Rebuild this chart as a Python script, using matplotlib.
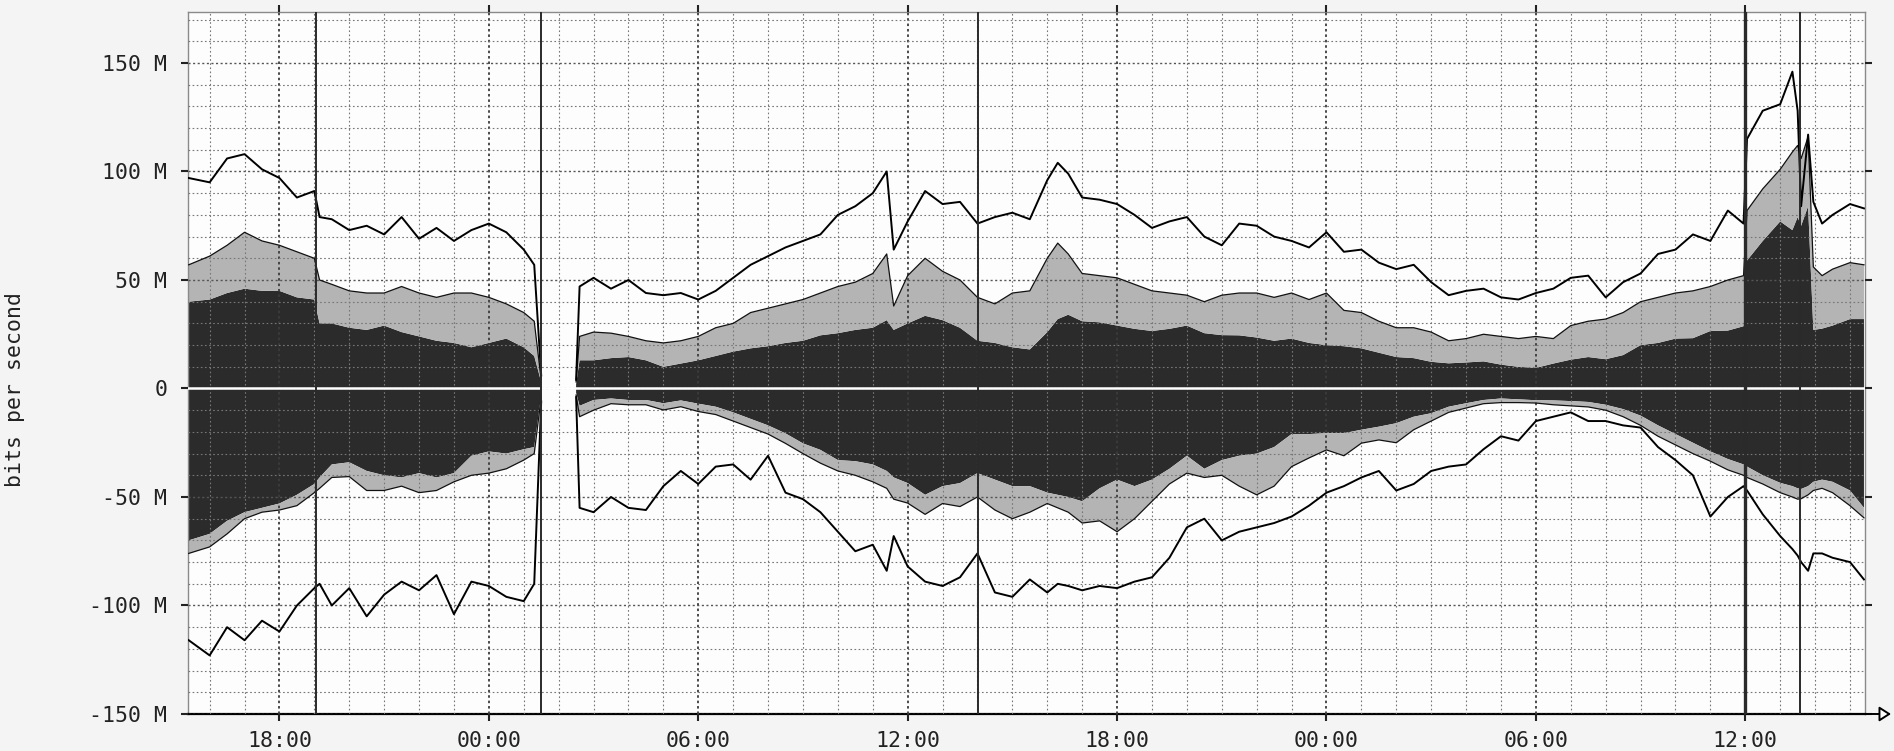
import numpy as np
import matplotlib
matplotlib.use("Agg")
import matplotlib.pyplot as plt
from matplotlib.ticker import MultipleLocator

nan = np.nan

# time axis: hours relative to midnight of day 2 (negative = day 1 afternoon)
hours = [
    -8.6, -8.0, -7.5, -7.0, -6.5, -6.0, -5.5, -5.0, -4.85,
    -4.5, -4.0, -3.5, -3.0, -2.5, -2.0, -1.5, -1.0, -0.5, 0.0, 0.5, 1.0,
    1.3, 1.5, 2.0, 2.5, 2.6,
    3.0, 3.5, 4.0, 4.5, 5.0, 5.5, 6.0, 6.5, 7.0, 7.5, 8.0, 8.5, 9.0, 9.5, 10.0, 10.5, 11.0,
    11.4, 11.6,
    12.0, 12.5, 13.0, 13.5, 14.0, 14.5, 15.0, 15.5, 16.0,
    16.3, 16.6,
    17.0, 17.5, 18.0, 18.5, 19.0, 19.5, 20.0, 20.5, 21.0, 21.5, 22.0, 22.5, 23.0, 23.5,
    24.0, 24.5, 25.0, 25.5, 26.0, 26.5, 27.0, 27.5, 28.0, 28.5, 29.0, 29.5, 30.0, 30.5,
    31.0, 31.5, 32.0, 32.5, 33.0, 33.5, 34.0, 34.5, 35.0, 35.5,
    35.95, 36.05, 36.5, 37.0,
    37.35, 37.5, 37.6, 37.8, 37.95,
    38.2, 38.5, 39.0, 39.4,
]

# inbound (positive side), Mbit/s
in_line = [
    97, 95, 106, 108, 101, 97, 88, 91, 79,
    78, 73, 75, 71, 79, 69, 74, 68, 73, 76, 72, 64,
    57, 6, nan, 4, 47,
    51, 46, 50, 44, 43, 44, 41, 45, 51, 57, 61, 65, 68, 71, 80, 84, 90,
    100, 64,
    77, 91, 85, 86, 76, 79, 81, 78, 96,
    104, 99,
    88, 87, 85, 80, 74, 77, 79, 70, 66, 76, 75, 70, 68, 65,
    72, 63, 64, 58, 55, 57, 49, 43, 45, 46, 42, 41, 44, 46,
    51, 52, 42, 49, 53, 62, 64, 71, 68, 82,
    76, 115, 128, 131,
    146, 128, 84, 117, 86,
    76, 80, 85, 83,
]
in_light = [
    57, 61, 66, 72, 68, 66, 63, 60, 50,
    48, 45, 44, 44, 47, 44, 42, 44, 44, 42, 39, 35,
    31, 4, nan, 3, 24,
    26, 25.5, 24, 22, 21, 22, 24, 28, 30, 35, 37, 39, 41, 44, 47, 49, 53,
    62, 38,
    52, 60, 54, 50, 42, 39, 44, 45, 60,
    67, 62,
    53, 52, 51, 48, 45, 44, 43, 40, 43, 44, 44, 42, 44, 41,
    44, 36, 35, 31, 28, 28, 26, 22, 23, 25, 24, 23, 24, 23,
    29, 31, 32, 35, 40, 42, 44, 45, 47, 50,
    52, 82, 92, 101,
    109, 112, 106, 116, 56,
    52, 55, 58, 57,
]
in_dark = [
    40, 41, 44, 46, 45, 45, 42, 41, 30,
    30, 28, 27, 29, 26, 24, 22, 21, 19, 21, 23, 19,
    15, 3, nan, 2, 13,
    13, 14, 14.5, 13, 10, 11.5, 13, 15, 17, 18.5, 19.5, 21, 22, 24.5, 25.5, 27, 28,
    31.5, 27,
    30, 33.5, 31.5, 28, 22, 21, 19, 18, 26,
    32, 34,
    31, 30.5, 29, 27.5, 26.5, 27.5, 29, 25.5, 24.6, 24.5, 23.5, 22, 23, 21,
    20, 19.5, 18.5, 16.5, 14.5, 14, 12.3, 11.6, 12, 12.5, 11, 10, 9.5, 11.5,
    13.3, 14.5, 13.5, 15.4, 20, 21, 23, 23.2, 26.5, 26.7,
    28.7, 59, 68, 77,
    73, 79, 75, 84, 27,
    27.6, 29, 32, 32,
]

# outbound (negative side), Mbit/s
out_dark = [
    -70, -67, -61, -57, -55, -53, -49, -44, -41,
    -35, -34, -38, -40, -41, -39, -41, -39, -31, -29, -30, -28,
    -27, -3, nan, -2, -8,
    -5.3, -4.6, -5.3, -5.3, -6.8, -5.5, -7, -8.4, -11, -14, -17, -20.7, -25.3, -28.3, -33, -33.5, -35,
    -38, -41,
    -43.6, -49, -45, -43.6, -39, -42, -45, -45, -48,
    -49, -50,
    -52, -46, -42, -45, -42, -37, -31, -37, -33, -31, -30, -27, -21, -21,
    -20.6, -20.6, -19, -17.6, -16, -13, -11.4, -8.4, -6.8, -5.3, -4.6, -5, -5.4, -5.5,
    -5.8, -6.2, -7.5, -9.5, -12.5, -17, -21, -25, -29, -32.5,
    -35, -36, -40, -43.5,
    -45, -46, -46.3, -45, -43,
    -42, -43, -47, -55,
]
out_light = [
    -76, -73, -67, -60, -57, -56, -54, -48, -46,
    -41, -40.6, -47, -47, -45, -48, -47, -43, -40, -39, -37, -33,
    -30, -4, nan, -3, -13,
    -10, -7, -7.5, -7.5, -9.9, -8.4, -10.6, -12, -15, -18, -21, -25.3, -30, -34.4, -38, -40, -43,
    -46, -51,
    -52.8, -58, -53, -54.4, -50, -56, -60, -57, -53,
    -55, -57,
    -62, -61, -66, -60, -52, -44, -39, -41, -40, -45, -49, -45, -36, -32,
    -28.3, -31, -25.2, -23.7, -25, -19, -15, -11, -9, -7, -6.5, -6.5, -6.7, -7.5,
    -8, -8.5, -10, -13, -17, -22, -26, -30, -33.5, -37.5,
    -40, -41, -44, -48,
    -50, -51, -50.8, -49, -47,
    -46, -48, -54, -59.6,
]
out_line = [
    -116, -123, -110, -116, -107, -112, -100, -92, -90,
    -100, -92, -105, -95, -89, -93, -86, -104, -89, -91, -96, -98,
    -90, -6, nan, -4, -55,
    -57, -50, -55, -56, -45, -38, -44, -36, -35, -42, -31, -48, -51, -57, -66, -75, -72,
    -84, -68,
    -82, -89, -91, -87, -76, -94, -96, -88, -94,
    -90, -91,
    -93, -91, -92, -89, -87, -78, -64, -60, -70, -66, -64, -62, -59, -54,
    -48, -45, -41, -38, -47, -44, -38, -36, -35, -28, -22, -24, -15, -13,
    -11, -15, -15, -17, -18, -27, -33, -40, -59, -50,
    -45, -47, -58, -68,
    -74, -77, -80, -84, -76,
    -76, -78, -80, -88,
]

event_hours = [-4.96, 1.49, 14.01, 36.0, 37.56]
xtick_hours = [-6, 0, 6, 12, 18, 24, 30, 36]
xtick_labels = ["18:00", "00:00", "06:00", "12:00", "18:00", "00:00", "06:00", "12:00"]
ytick_vals = [-150, -100, -50, 0, 50, 100, 150]

plt.rcParams["font.family"] = "DejaVu Sans Mono"

t = np.array(hours, dtype=float)
series = {k: np.array(v, dtype=float) for k, v in dict(
    in_line=in_line, in_light=in_light, in_dark=in_dark,
    out_dark=out_dark, out_light=out_light, out_line=out_line).items()}
for k, v in series.items():
    assert len(v) == len(t), (k, len(v), len(t))

DARK = "#2b2b2b"
LIGHT = "#b4b4b4"

fig = plt.figure(figsize=(18.94, 7.51), dpi=100, facecolor="#f4f4f4")
ax = fig.add_axes([188 / 1894, 1 - 714 / 751, (1865 - 188) / 1894, (714 - 12) / 751])
ax.set_facecolor("#fdfdfd")

# stacked areas
ax.fill_between(t, 0, series["in_dark"], color=DARK, lw=0, zorder=1)
ax.fill_between(t, series["in_dark"], series["in_light"], color=LIGHT, lw=0, zorder=1)
ax.fill_between(t, series["out_dark"], 0, color=DARK, lw=0, zorder=1)
ax.fill_between(t, series["out_light"], series["out_dark"], color=LIGHT, lw=0, zorder=1)
ax.plot(t, series["in_light"], color="#111111", lw=0.9, zorder=3)
ax.plot(t, series["out_light"], color="#111111", lw=0.9, zorder=3)

# outer lines
ax.plot(t, series["in_line"], color="black", lw=1.4, zorder=4)
ax.plot(t, series["out_line"], color="black", lw=1.4, zorder=4)
ax.axhline(0, color="white", lw=1.8, zorder=3.5)

for h in event_hours:
    ax.axvline(h, color="#2a2a2a", lw=2.4 if h == 36.0 else 1.4, zorder=4)

ax.set_xlim(-8.62, 39.43)
ax.set_ylim(-150, 173.5)

ax.set_xticks(xtick_hours, xtick_labels)
ax.xaxis.set_minor_locator(MultipleLocator(1))
ax.set_yticks(ytick_vals, [("0" if v == 0 else f"{v} M") for v in ytick_vals])
ax.yaxis.set_minor_locator(MultipleLocator(10))

# grid drawn over the areas, like rrdtool does
ax.set_axisbelow(False)
ax.xaxis.grid(True, which="minor", color="#777777", lw=0.8, ls=(0, (1.5, 2.2)))
ax.xaxis.grid(True, which="major", color="#3c3c3c", lw=1.3, ls=(0, (1.4, 1.6)))
ax.yaxis.grid(True, which="minor", color="#777777", lw=0.8, ls=(0, (1.5, 2.2)))
ax.yaxis.grid(True, which="major", color="#555555", lw=1.0, ls=(0, (1.5, 1.8)))

ax.tick_params(which="major", direction="out", length=5, width=1.5, color="#222222",
               labelsize=15.5, labelcolor="#222222", top=True, right=True,
               labeltop=False, labelright=False)
ax.tick_params(which="minor", length=0)
ax.tick_params(axis="y", pad=10)
ax.tick_params(axis="x", pad=7)

for side in ["left", "top", "right"]:
    ax.spines[side].set_color("#8a8a8a")
    ax.spines[side].set_linewidth(1.0)
ax.spines["bottom"].set_color("black")
ax.spines["bottom"].set_linewidth(1.6)

ax.set_ylabel("bits per second", fontsize=15.5, color="#222222")
ax.yaxis.set_label_coords(-0.097, 0.462)

# arrow at the end of the time axis
ax.annotate("", xy=(1.0155, 0), xycoords="axes fraction",
            xytext=(0.99, 0), textcoords="axes fraction",
            arrowprops=dict(arrowstyle="-|>,head_length=0.7,head_width=0.45",
                            fc="white", ec="black", lw=1.4, shrinkA=0, shrinkB=0),
            annotation_clip=False)

fig.savefig("out.png", dpi=100, facecolor=fig.get_facecolor())
